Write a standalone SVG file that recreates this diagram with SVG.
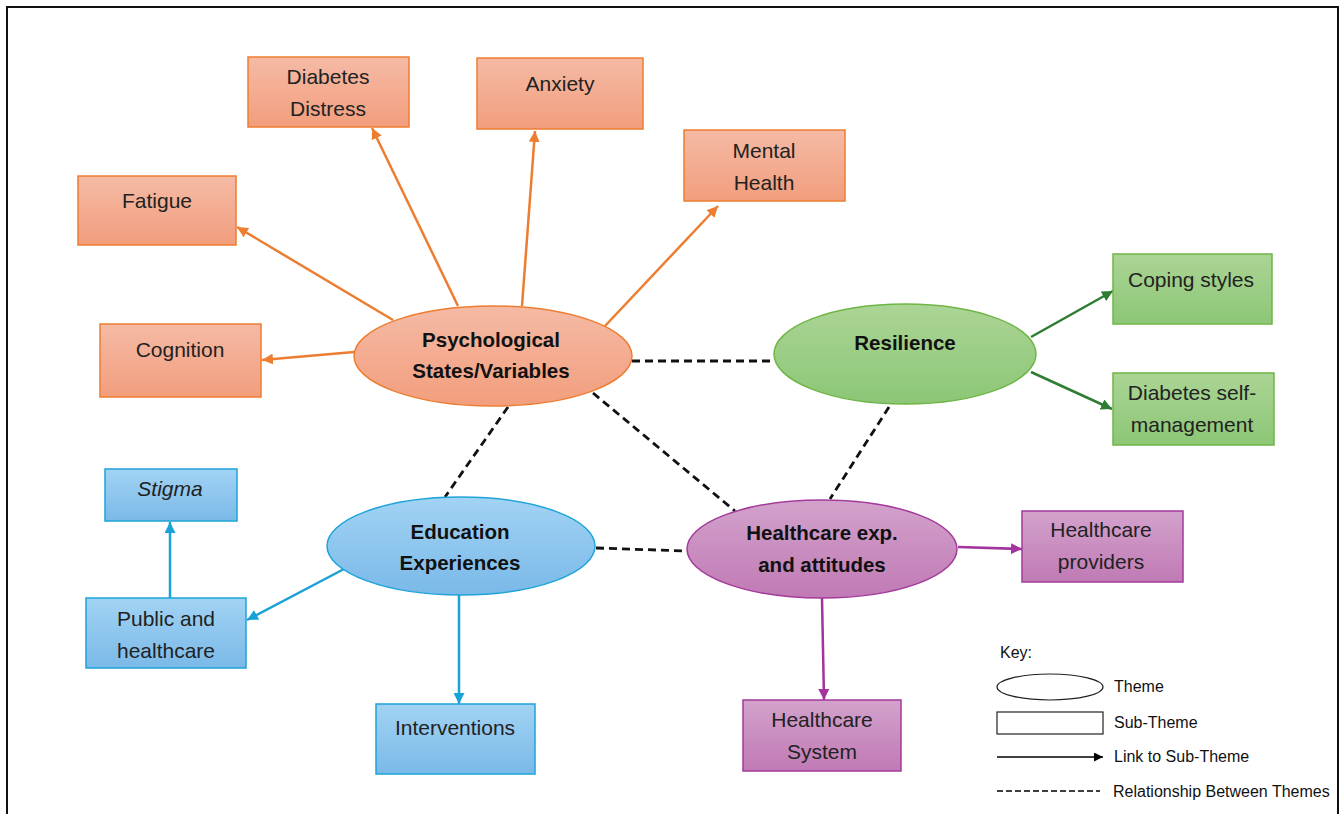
<svg xmlns="http://www.w3.org/2000/svg" width="1340" height="814" viewBox="0 0 1340 814">
  <defs>
    <linearGradient id="gOrange" x1="0" y1="0" x2="0" y2="1">
      <stop offset="0" stop-color="#f5baa5"/>
      <stop offset="1" stop-color="#f29e7d"/>
    </linearGradient>
    <linearGradient id="gGreen" x1="0" y1="0" x2="0" y2="1">
      <stop offset="0" stop-color="#abd595"/>
      <stop offset="1" stop-color="#8cc676"/>
    </linearGradient>
    <linearGradient id="gBlue" x1="0" y1="0" x2="0" y2="1">
      <stop offset="0" stop-color="#a2d3f4"/>
      <stop offset="1" stop-color="#7ab9e8"/>
    </linearGradient>
    <linearGradient id="gPurple" x1="0" y1="0" x2="0" y2="1">
      <stop offset="0" stop-color="#d3a2cc"/>
      <stop offset="1" stop-color="#c07ab4"/>
    </linearGradient>
    <marker id="aOrange" viewBox="0 0 10 10" refX="10" refY="5" markerWidth="11" markerHeight="11" markerUnits="userSpaceOnUse" orient="auto">
      <path d="M0,0 L10,5 L0,10 z" fill="#ed7d31"/>
    </marker>
    <marker id="aGreen" viewBox="0 0 10 10" refX="10" refY="5" markerWidth="11" markerHeight="11" markerUnits="userSpaceOnUse" orient="auto">
      <path d="M0,0 L10,5 L0,10 z" fill="#2f7d32"/>
    </marker>
    <marker id="aBlue" viewBox="0 0 10 10" refX="10" refY="5" markerWidth="11" markerHeight="11" markerUnits="userSpaceOnUse" orient="auto">
      <path d="M0,0 L10,5 L0,10 z" fill="#1aa2d6"/>
    </marker>
    <marker id="aPurple" viewBox="0 0 10 10" refX="10" refY="5" markerWidth="11" markerHeight="11" markerUnits="userSpaceOnUse" orient="auto">
      <path d="M0,0 L10,5 L0,10 z" fill="#a3339d"/>
    </marker>
    <marker id="aBlack" viewBox="0 0 10 10" refX="10" refY="5" markerWidth="9" markerHeight="9" markerUnits="userSpaceOnUse" orient="auto">
      <path d="M0,0 L10,5 L0,10 z" fill="#000"/>
    </marker>
  </defs>
  <style>
    .box { font-family: "Liberation Sans", Arial, sans-serif; font-size: 21px; fill: #222; text-anchor: middle; }
    .theme { font-family: "Liberation Sans", Arial, sans-serif; font-size: 20.5px; font-weight: bold; fill: #111; text-anchor: middle; }
    .key { font-family: "Liberation Sans", Arial, sans-serif; font-size: 16px; fill: #111; }
    .orange { fill: url(#gOrange); stroke: #ed7d31; stroke-width: 1.5; }
    .green { fill: url(#gGreen); stroke: #6fb646; stroke-width: 1.5; }
    .blue { fill: url(#gBlue); stroke: #1ea4d8; stroke-width: 1.5; }
    .purple { fill: url(#gPurple); stroke: #a33a9c; stroke-width: 1.5; }
    .lo { stroke: #ed7d31; stroke-width: 2.5; fill: none; marker-end: url(#aOrange); }
    .lg { stroke: #2f7d32; stroke-width: 2.5; fill: none; marker-end: url(#aGreen); }
    .lb { stroke: #1aa2d6; stroke-width: 2.5; fill: none; marker-end: url(#aBlue); }
    .lp { stroke: #a3339d; stroke-width: 2.5; fill: none; marker-end: url(#aPurple); }
    .dash { stroke: #111; stroke-width: 2.8; fill: none; stroke-dasharray: 8 5; }
  </style>

  <!-- frame -->
  <rect x="7" y="7" width="1331" height="820" fill="#fff" stroke="#111" stroke-width="2"/>

  <!-- connectors -->
  <g id="connectors">
    <line class="lo" x1="393" y1="320" x2="237" y2="227"/>
    <line class="lo" x1="458" y1="306" x2="372" y2="128"/>
    <line class="lo" x1="522" y1="306" x2="535" y2="131"/>
    <line class="lo" x1="605" y1="326" x2="718" y2="206"/>
    <line class="lo" x1="354" y1="352" x2="262" y2="360"/>
    <line class="lg" x1="1031" y1="337" x2="1113" y2="291"/>
    <line class="lg" x1="1031" y1="372" x2="1112" y2="409"/>
    <line class="lb" x1="170" y1="598" x2="170" y2="522"/>
    <line class="lb" x1="344" y1="569" x2="247" y2="620"/>
    <line class="lb" x1="459" y1="595" x2="459" y2="704"/>
    <line class="lp" x1="958" y1="547" x2="1022" y2="549"/>
    <line class="lp" x1="822" y1="598" x2="824" y2="700"/>
    <line class="dash" x1="632" y1="361" x2="774" y2="361"/>
    <line class="dash" x1="508" y1="407" x2="445" y2="497"/>
    <line class="dash" x1="593" y1="393" x2="735" y2="511"/>
    <line class="dash" x1="889" y1="407" x2="830" y2="499"/>
    <line class="dash" x1="596" y1="548" x2="687" y2="551"/>
  </g>

  <!-- themes -->
  <g id="psychological">
    <ellipse class="orange" cx="493" cy="356" rx="139" ry="50"/>
    <text class="theme" x="491" y="347">Psychological</text>
    <text class="theme" x="491" y="378">States/Variables</text>
  </g>
  <g id="resilience">
    <ellipse class="green" cx="905" cy="354" rx="131" ry="50"/>
    <text class="theme" x="905" y="350">Resilience</text>
  </g>
  <g id="education">
    <ellipse class="blue" cx="461" cy="546" rx="134" ry="49"/>
    <text class="theme" x="460" y="539">Education</text>
    <text class="theme" x="460" y="570">Experiences</text>
  </g>
  <g id="healthcare">
    <ellipse class="purple" cx="822" cy="549" rx="135" ry="49"/>
    <text class="theme" x="822" y="540">Healthcare exp.</text>
    <text class="theme" x="822" y="572">and attitudes</text>
  </g>

  <!-- sub-themes -->
  <g id="diabetes-distress">
    <rect class="orange" x="248" y="57" width="161" height="70"/>
    <text class="box" x="328" y="84">Diabetes</text>
    <text class="box" x="328" y="116">Distress</text>
  </g>
  <g id="anxiety">
    <rect class="orange" x="477" y="58" width="166" height="71"/>
    <text class="box" x="560" y="91">Anxiety</text>
  </g>
  <g id="mental-health">
    <rect class="orange" x="684" y="130" width="161" height="71"/>
    <text class="box" x="764" y="158">Mental</text>
    <text class="box" x="764" y="190">Health</text>
  </g>
  <g id="fatigue">
    <rect class="orange" x="78" y="176" width="158" height="69"/>
    <text class="box" x="157" y="208">Fatigue</text>
  </g>
  <g id="cognition">
    <rect class="orange" x="100" y="324" width="161" height="73"/>
    <text class="box" x="180" y="357">Cognition</text>
  </g>
  <g id="coping-styles">
    <rect class="green" x="1113" y="254" width="159" height="70"/>
    <text class="box" x="1191" y="287">Coping styles</text>
  </g>
  <g id="self-management">
    <rect class="green" x="1113" y="373" width="161" height="72"/>
    <text class="box" x="1192" y="400">Diabetes self-</text>
    <text class="box" x="1192" y="432">management</text>
  </g>
  <g id="stigma">
    <rect class="blue" x="105" y="469" width="132" height="52"/>
    <text class="box" x="170" y="496" font-style="italic">Stigma</text>
  </g>
  <g id="public-healthcare">
    <rect class="blue" x="86" y="598" width="160" height="70"/>
    <text class="box" x="166" y="626">Public and</text>
    <text class="box" x="166" y="658">healthcare</text>
  </g>
  <g id="interventions">
    <rect class="blue" x="376" y="704" width="159" height="70"/>
    <text class="box" x="455" y="735">Interventions</text>
  </g>
  <g id="healthcare-providers">
    <rect class="purple" x="1022" y="511" width="161" height="71"/>
    <text class="box" x="1101" y="537">Healthcare</text>
    <text class="box" x="1101" y="569">providers</text>
  </g>
  <g id="healthcare-system">
    <rect class="purple" x="743" y="700" width="158" height="71"/>
    <text class="box" x="822" y="727">Healthcare</text>
    <text class="box" x="822" y="759">System</text>
  </g>

  <!-- key -->
  <g id="key">
    <text class="key" x="1000" y="658">Key:</text>
    <ellipse cx="1050" cy="687" rx="53" ry="13" fill="#fff" stroke="#222" stroke-width="1.2"/>
    <text class="key" x="1114" y="692">Theme</text>
    <rect x="997" y="712" width="106" height="22" fill="#fff" stroke="#222" stroke-width="1.2"/>
    <text class="key" x="1114" y="728">Sub-Theme</text>
    <line x1="997" y1="757" x2="1103" y2="757" stroke="#000" stroke-width="1.6" marker-end="url(#aBlack)"/>
    <text class="key" x="1114" y="762">Link to Sub-Theme</text>
    <line x1="997" y1="791" x2="1100" y2="791" stroke="#000" stroke-width="1.6" stroke-dasharray="6 3"/>
    <text class="key" x="1113" y="797">Relationship Between Themes</text>
  </g>
</svg>
